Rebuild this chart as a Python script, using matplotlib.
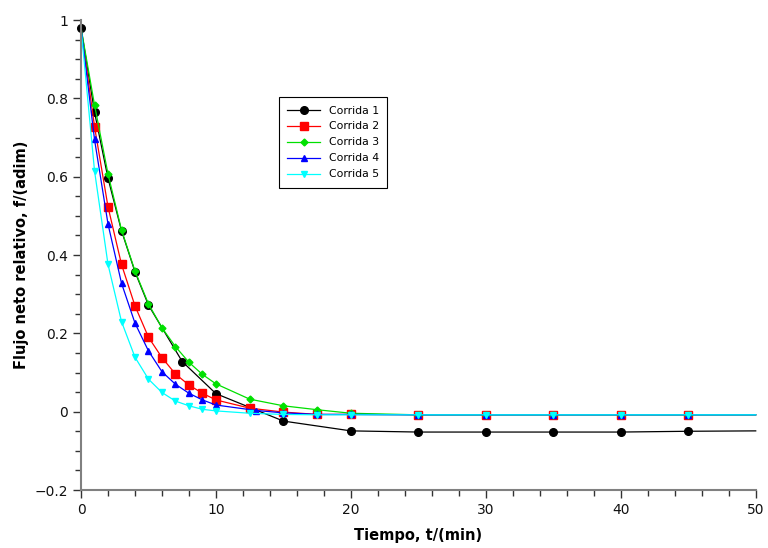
import matplotlib
matplotlib.use("Agg")
import matplotlib.pyplot as plt
from matplotlib.ticker import MultipleLocator, FuncFormatter

# Data (time in min, relative net flux).
T1 = [0, 1, 2, 3, 4, 5, 7.5, 10, 15, 20, 25, 30, 35, 40, 45, 50]
F1 = [0.98, 0.765, 0.596, 0.462, 0.357, 0.272, 0.128, 0.046, -0.024, -0.049,
      -0.052, -0.052, -0.052, -0.052, -0.050, -0.049]

T2 = [0, 1, 2, 3, 4, 5, 6, 7, 8, 9, 10, 12.5, 15, 17.5, 20, 25, 30, 35, 40, 45, 50]
F2 = [0.98, 0.728, 0.523, 0.376, 0.270, 0.190, 0.138, 0.096, 0.068, 0.047, 0.030,
      0.009, -0.001, -0.007, -0.007, -0.008, -0.008, -0.008, -0.008, -0.008, -0.008]

T3 = [0, 1, 2, 3, 4, 5, 6, 7, 8, 9, 10, 12.5, 15, 17.5, 20, 25, 30, 35, 40, 45, 50]
F3 = [0.98, 0.783, 0.607, 0.464, 0.359, 0.275, 0.214, 0.166, 0.126, 0.095, 0.071,
      0.032, 0.015, 0.005, -0.004, -0.008, -0.008, -0.008, -0.008, -0.008, -0.008]

T4 = [0, 1, 2, 3, 4, 5, 6, 7, 8, 9, 10, 13, 15, 17.5, 20, 25, 30, 35, 40, 45, 50]
F4 = [0.98, 0.695, 0.479, 0.328, 0.226, 0.155, 0.102, 0.070, 0.047, 0.030, 0.017,
      0.003, -0.003, -0.007, -0.007, -0.008, -0.008, -0.008, -0.008, -0.008, -0.008]

T5 = [0, 1, 2, 3, 4, 5, 6, 7, 8, 9, 10, 12.5, 15, 17.5, 20, 25, 30, 35, 40, 45, 50]
F5 = [0.98, 0.615, 0.376, 0.230, 0.139, 0.083, 0.049, 0.027, 0.015, 0.006, 0.002,
      -0.004, -0.007, -0.008, -0.008, -0.008, -0.008, -0.008, -0.008, -0.008, -0.008]

SERIES = [
    ("Corrida 1", T1, F1, "black", "o", 5.5, 0),
    ("Corrida 2", T2, F2, "#ff0000", "s", 5.5, 1),
    ("Corrida 3", T3, F3, "#00e000", "D", 3.5, 1),
    ("Corrida 4", T4, F4, "#0000ff", "^", 4.5, 1),
    ("Corrida 5", T5, F5, "#00ffff", "v", 4.5, 1),
]

plt.rcParams.update({"font.family": "DejaVu Sans", "font.size": 10})

fig = plt.figure(figsize=(7.68, 5.48), dpi=100)
ax = fig.add_axes([0.1055, 0.1058, 0.8785, 0.8577])

for name, t, f, c, m, ms, first in SERIES:
    # the last point (t=50) sits on the axes edge and carries no marker
    ax.plot(t, f, color=c, lw=0.9, marker=m, ms=ms, mec=c, mfc=c,
            markevery=list(range(first, len(t) - 1)), label=name, clip_on=False)

ax.set_xlim(0, 50)
ax.set_ylim(-0.2, 1.0)
ax.xaxis.set_major_locator(MultipleLocator(10))
ax.xaxis.set_minor_locator(MultipleLocator(2))
ax.yaxis.set_major_locator(MultipleLocator(0.2))
ax.yaxis.set_minor_locator(MultipleLocator(0.05))
fmt = FuncFormatter(lambda v, p: ("%g" % round(v, 3)).replace("-", "\u2212"))
ax.xaxis.set_major_formatter(fmt)
ax.yaxis.set_major_formatter(fmt)

for s in ("top", "right"):
    ax.spines[s].set_visible(False)
for s in ("left", "bottom"):
    ax.spines[s].set_color("#808080")
    ax.spines[s].set_linewidth(1.5)
ax.tick_params(which="major", direction="out", length=6, width=1, color="#333333",
               labelsize=10, labelcolor="#111111")
ax.tick_params(which="minor", direction="out", length=4, width=1, color="#333333")

ax.set_xlabel("Tiempo, t/(min)", fontweight="bold", fontsize=10.5, labelpad=8)
ax.set_ylabel("Flujo neto relativo, f/(adim)", fontweight="bold", fontsize=10.5, labelpad=4)

leg = ax.legend(loc="upper left", bbox_to_anchor=(0.285, 0.848), fontsize=7.8,
                frameon=True, fancybox=False, edgecolor="black", framealpha=1,
                handlelength=3.0, borderpad=0.8, labelspacing=0.55, handletextpad=0.8)
leg.get_frame().set_linewidth(0.8)

fig.savefig("out.png", dpi=100)
